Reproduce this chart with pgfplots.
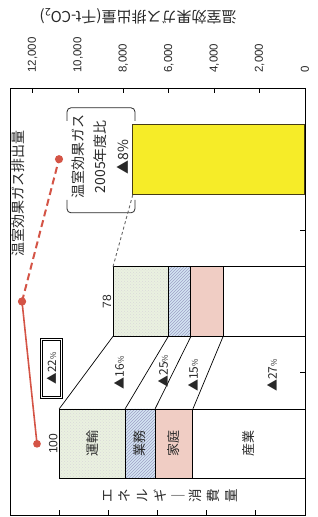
\documentclass[border=0pt]{standalone}
\usepackage{pgfplots}
\pgfplotsset{compat=1.18}
\usepackage{fontspec}
\setmainfont{Liberation Sans}
\newfontfamily\jp{Noto Sans CJK JP}
\usetikzlibrary{patterns}
\definecolor{unyu}{RGB}{234,241,224}
\definecolor{gyomu}{RGB}{212,229,242}
\definecolor{katei}{RGB}{240,205,196}
\definecolor{ghg}{RGB}{246,236,40}
\definecolor{ghgedge}{RGB}{70,60,20}
\definecolor{redline}{RGB}{212,84,70}
\definecolor{txt}{RGB}{40,40,40}

\begin{document}
\begin{tikzpicture}
% ---- energy consumption index axis (0-120, bottom ticks) ----
\begin{axis}[
  name=A,
  scale only axis, width=295pt, height=427pt,
  xmin=0, xmax=120, ymin=-0.5, ymax=2.5,
  x dir=reverse,
  xtick={20,40,60,80,100}, xticklabels={}, xtick pos=lower,
  ytick={0.5,1.5}, yticklabels={}, ytick pos=right,
  tick align=inside, major tick length=5pt,
  tick style={black, line width=0.8pt},
  axis line style={black, line width=0.9pt},
  xbar stacked, bar width=0.49,
  clip=false,
]
\addplot[draw=black, line width=0.9pt, fill=white] coordinates {(45.6,0) (33.3,1)};
\addplot[draw=black, line width=0.9pt, fill=katei] coordinates {(15.4,0) (13.1,1)};
\addplot[draw=black, line width=0.9pt, fill=gyomu, postaction={pattern=north east lines, pattern color=blue!25!gray!60}] coordinates {(12.2,0) (9.2,1)};
\addplot[draw=black, line width=0.9pt, fill=unyu, postaction={pattern=crosshatch dots, pattern color=gray!30}] coordinates {(26.8,0) (22.5,1)};
% connectors
\draw[line width=0.7pt] (axis cs:100,0.245) -- (axis cs:78.1,0.755);
\draw[line width=0.7pt] (axis cs:73.2,0.245) -- (axis cs:55.6,0.755);
\draw[line width=0.7pt] (axis cs:61.0,0.245) -- (axis cs:46.4,0.755);
\draw[line width=0.7pt] (axis cs:45.6,0.245) -- (axis cs:33.3,0.755);
% label positions
\coordinate (lU) at (axis cs:86.6,0);
\coordinate (lG) at (axis cs:67.1,0);
\coordinate (lK) at (axis cs:53.3,0);
\coordinate (lS) at (axis cs:22.8,0);
\coordinate (v1) at (axis cs:100,0);
\coordinate (v2) at (axis cs:78.1,1);
\coordinate (p1) at (axis cs:75.7,0.5);
\coordinate (p2) at (axis cs:57.8,0.51);
\coordinate (p3) at (axis cs:45.6,0.48);
\coordinate (p4) at (axis cs:13.4,0.48);
\coordinate (eL) at (axis cs:54.9,-0.365);
\coordinate (b2) at (axis cs:78.1,1.245);
\end{axis}
% ---- GHG emission axis (0-13000, top ticks) ----
\begin{axis}[
  scale only axis, width=295pt, height=427pt,
  xmin=0, xmax=13000, ymin=-0.5, ymax=2.5,
  x dir=reverse,
  xtick={0,2000,...,12000}, xtick pos=upper, xticklabel pos=upper,
  scaled x ticks=false,
  /pgf/number format/assume math mode=true,
  /pgf/number format/1000 sep={,},
  xticklabel style={rotate=90, anchor=west, font=\fontsize{11.5}{12}\selectfont, text=txt},
  xticklabel shift=12pt,
  ytick=\empty,
  tick align=inside, major tick length=5pt,
  tick style={black, line width=0.8pt},
  axis line style={black, line width=0.9pt},
  clip=false,
]
\addplot[xbar, bar width=0.49, fill=ghg, draw=ghgedge, line width=1pt] coordinates {(7580,2)};
\addplot[redline, line width=1.6pt, mark=*, mark size=3pt, mark options={solid, fill=redline}] coordinates {(11810,0) (12470,1)};
\addplot[redline, line width=2pt, dash pattern=on 7pt off 4pt, mark=*, mark size=3pt, mark options={solid, fill=redline}] coordinates {(12470,1) (10840,2)};
\coordinate (box22) at (axis cs:11171,0.53);
\coordinate (ll) at (axis cs:12650,1.757);
\coordinate (co) at (axis cs:9034,2.017);
\coordinate (ti) at (axis cs:7359,3.006);
\coordinate (TL) at (axis cs:10488,2.361);
\coordinate (TR) at (axis cs:7492,2.361);
\coordinate (BL) at (axis cs:10488,1.623);
\coordinate (BR) at (axis cs:7492,1.623);
\coordinate (b3) at (axis cs:7580,1.755);
\coordinate (LB) at (axis cs:13000,-0.5);
\coordinate (RT) at (axis cs:0,2.5);
\end{axis}
% ---- annotations ----
\node[rotate=90, font=\jp\fontsize{13}{15}\selectfont, text=txt] at (lU) {運輸};
\node[rotate=90, font=\jp\fontsize{13}{15}\selectfont, text=txt] at (lG) {業務};
\node[rotate=90, font=\jp\fontsize{13}{15}\selectfont, text=txt] at (lK) {家庭};
\node[rotate=90, font=\jp\fontsize{13}{15}\selectfont, text=txt] at (lS) {産業};
\node[rotate=90, anchor=south, inner sep=1.5pt, font=\fontsize{12}{14}\selectfont, text=txt] at (v1) {100};
\node[rotate=90, anchor=south, inner sep=1.5pt, font=\fontsize{12}{14}\selectfont, text=txt] at (v2) {78};
\node[rotate=90, font=\jp\fontsize{12}{14}\selectfont, text=txt] at (p1) {▲16{\footnotesize\%}};
\node[rotate=90, font=\jp\fontsize{12}{14}\selectfont, text=txt] at (p2) {▲25{\footnotesize\%}};
\node[rotate=90, font=\jp\fontsize{12}{14}\selectfont, text=txt] at (p3) {▲15{\footnotesize\%}};
\node[rotate=90, font=\jp\fontsize{12}{14}\selectfont, text=txt] at (p4) {▲27{\footnotesize\%}};
\node[rotate=90, align=center, font=\jp\fontsize{13.5}{17.7}\selectfont, text=txt] at (eL) {エ\\ネ\\ル\\ギ\\｜\\消\\費\\量};
\node[rotate=90, draw=black, double, double distance=1pt, line width=0.7pt, minimum width=58pt, minimum height=20pt, inner sep=1pt, font=\jp\fontsize{11.5}{13}\selectfont, text=txt, fill=white] at (box22) {▲22{\footnotesize\%}};
\node[rotate=90, font=\jp\fontsize{14}{16}\selectfont, text=txt] at (ll) {温室効果ガス排出量};
\node[rotate=90, align=center, font=\jp\fontsize{14}{22.5}\selectfont, text=txt] at (co) {温室効果ガス\\2005年度比\\▲8\%};
\node[rotate=180, font=\jp\fontsize{15}{17}\selectfont, text=txt] at (ti) {温室効果ガス排出量(千t-CO\textsubscript{2})};
\draw[txt, line width=0.8pt, rounded corners=4pt] ([yshift=-13pt]TL) -- (TL) -- (TR) -- ([yshift=-13pt]TR);
\draw[txt, line width=0.8pt, rounded corners=4pt] ([yshift=13pt]BL) -- (BL) -- (BR) -- ([yshift=13pt]BR);
\draw[gray!80!black, line width=0.9pt, dash pattern=on 3pt off 2.5pt] (b2) -- (b3);
\pgfresetboundingbox
\path[use as bounding box] ([shift={(-10pt,-2pt)}]LB) rectangle ([shift={(13pt,88pt)}]RT);
\end{tikzpicture}
\end{document}
